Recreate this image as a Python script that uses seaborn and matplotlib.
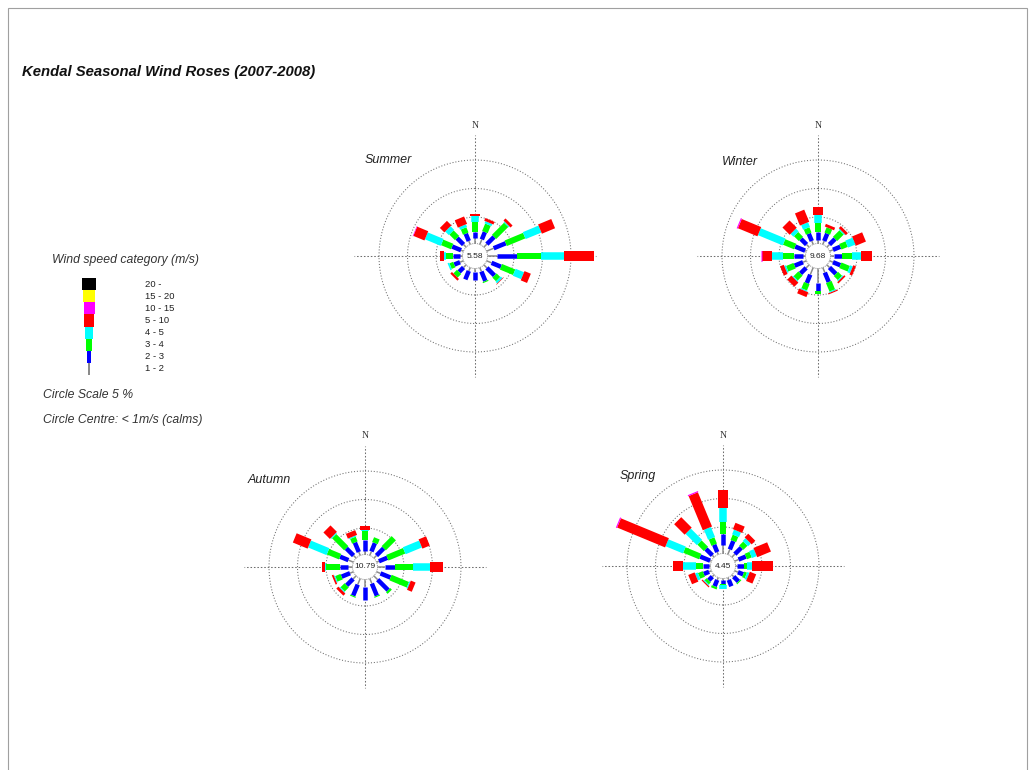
import numpy as np
import matplotlib
matplotlib.use("Agg")
import matplotlib.pyplot as plt
from matplotlib.patches import Rectangle
import seaborn as sns

# ---------------------------------------------------------------- data
DIRECTIONS = ["N", "NNE", "NE", "ENE", "E", "ESE", "SE", "SSE",
              "S", "SSW", "SW", "WSW", "W", "WNW", "NW", "NNW"]
SPEED_CLASSES = ["1 - 2", "2 - 3", "3 - 4", "4 - 5", "5 - 10",
                 "10 - 15", "15 - 20", "20 -"]
SEASONS = ["Summer", "Winter", "Autumn", "Spring"]
CALMS = [5.58, 9.68, 10.79, 4.45]   # % of hours below 1 m/s

# frequency (%) per direction; columns follow SPEED_CLASSES (1-2 ... 10-15)
SUMMER = [
    [1.3, 1.1, 1.7, 1.1, 0.3, 0.0],
    [1.3, 1.4, 1.4, 0.4, 0.5, 0.0],
    [1.1, 1.8, 3.0, 0.2, 0.5, 0.0],
    [1.7, 2.3, 3.5, 3.0, 2.5, 0.0],
    [2.1, 3.5, 4.1, 4.0, 5.3, 0.0],
    [1.3, 1.8, 2.5, 1.6, 1.2, 0.0],
    [1.1, 1.9, 0.9, 0.4, 0.1, 0.0],
    [1.1, 1.8, 0.2, 0.0, 0.0, 0.0],
    [1.0, 1.4, 0.0, 0.0, 0.0, 0.0],
    [1.0, 1.6, 0.0, 0.0, 0.0, 0.0],
    [1.0, 1.1, 0.9, 0.0, 0.4, 0.0],
    [1.0, 1.1, 0.7, 0.3, 0.0, 0.0],
    [0.8, 1.2, 1.2, 0.4, 0.7, 0.0],
    [0.8, 1.7, 1.9, 3.0, 2.1, 0.1],
    [1.0, 1.6, 1.4, 0.9, 1.1, 0.0],
    [1.0, 1.4, 1.0, 0.5, 1.4, 0.0],
]
WINTER = [
    [1.0, 1.4, 1.6, 1.4, 1.4, 0.0],
    [1.0, 1.4, 1.0, 0.0, 0.5, 0.0],
    [1.0, 1.4, 1.6, 0.2, 0.5, 0.0],
    [1.0, 1.4, 1.2, 1.4, 1.9, 0.0],
    [1.0, 1.4, 1.7, 1.6, 1.9, 0.0],
    [1.0, 1.4, 1.6, 0.5, 0.5, 0.0],
    [1.0, 1.6, 1.0, 0.2, 0.3, 0.0],
    [1.3, 1.8, 1.6, 0.2, 0.2, 0.0],
    [2.9, 1.4, 0.5, 0.0, 0.0, 0.0],
    [1.7, 1.6, 1.2, 0.2, 0.9, 0.0],
    [1.1, 1.4, 1.2, 0.2, 1.0, 0.0],
    [1.0, 1.6, 1.4, 0.3, 0.7, 0.0],
    [0.8, 1.6, 1.9, 1.9, 1.7, 0.2],
    [0.6, 1.9, 2.1, 4.7, 3.7, 0.2],
    [1.0, 1.4, 1.2, 0.7, 1.8, 0.0],
    [1.0, 1.4, 1.0, 0.9, 2.3, 0.0],
]
AUTUMN = [
    [1.0, 1.9, 1.6, 0.1, 0.8, 0.0],
    [1.1, 1.6, 0.9, 0.0, 0.0, 0.0],
    [1.0, 1.8, 2.5, 0.0, 0.0, 0.0],
    [0.8, 1.6, 3.2, 3.1, 1.4, 0.0],
    [1.7, 1.8, 3.0, 3.0, 2.4, 0.0],
    [1.1, 1.9, 3.3, 0.2, 0.9, 0.0],
    [1.3, 2.6, 0.4, 0.0, 0.0, 0.0],
    [1.3, 2.3, 0.2, 0.0, 0.0, 0.0],
    [1.7, 2.3, 0.0, 0.0, 0.0, 0.0],
    [1.5, 2.1, 0.2, 0.0, 0.0, 0.0],
    [1.1, 1.6, 1.0, 0.2, 0.5, 0.0],
    [1.0, 1.6, 1.0, 0.2, 0.3, 0.0],
    [1.1, 1.4, 2.5, 0.2, 0.5, 0.0],
    [1.3, 1.6, 2.3, 3.5, 2.8, 0.0],
    [1.0, 1.8, 3.0, 0.2, 1.6, 0.0],
    [1.0, 1.8, 0.9, 0.2, 0.9, 0.0],
]
SPRING = [
    [1.8, 1.9, 2.1, 2.5, 3.2, 0.0],
    [1.3, 1.6, 1.0, 0.9, 1.2, 0.0],
    [1.1, 1.6, 1.0, 0.7, 0.9, 0.0],
    [1.1, 1.4, 0.9, 0.9, 2.6, 0.0],
    [0.6, 1.2, 0.5, 0.9, 3.7, 0.0],
    [1.0, 1.0, 0.5, 0.4, 1.2, 0.0],
    [0.8, 1.2, 0.2, 0.0, 0.0, 0.0],
    [0.8, 1.2, 0.0, 0.0, 0.0, 0.0],
    [0.6, 0.7, 0.2, 0.7, 0.0, 0.0],
    [0.8, 1.2, 0.4, 0.0, 0.0, 0.0],
    [0.8, 0.9, 0.5, 0.2, 0.2, 0.0],
    [0.8, 1.0, 0.9, 0.5, 1.2, 0.0],
    [0.6, 1.1, 1.2, 2.3, 1.7, 0.0],
    [0.6, 1.9, 3.0, 3.3, 9.1, 0.2],
    [0.8, 1.6, 1.6, 2.8, 2.6, 0.0],
    [0.8, 1.4, 1.2, 1.9, 6.5, 0.2],
]

# ---------------------------------------------------------------- style
sns.set_theme(style="white")
plt.rcParams["font.family"] = ["Liberation Sans", "DejaVu Sans"]

CLASS_COLORS = sns.color_palette(["#8a8a8a", "#0000ff", "#00ff00", "#00ffff",
                                  "#ff0000", "#ff00ff", "#ffff00", "#000000"])
CLASS_WIDTH_PX = [1.5, 4.5, 6.0, 7.5, 10.0, 11.0, 12.5, 13.5]
GUIDE = "#6e6e6e"

W_PX, H_PX = 1035, 770
PX_PER_PCT = 5.7              # radial scale: 5 % ring spacing ~28.5 px
BASE = 10.5 / PX_PER_PCT      # bars start at the calm circle
CALM_R = 12.5 / PX_PER_PCT
CROSS_R = 121 / PX_PER_PCT
NORTH_R = 131 / PX_PER_PCT
HALF = 140                    # half size of each rose axes, px
RLIM = HALF / PX_PER_PCT

fig = plt.figure(figsize=(W_PX / 100, H_PX / 100), dpi=100)
fig.patch.set_facecolor("white")


def fx(x):
    return x / W_PX


def fy(y):
    return 1 - y / H_PX


def add_rose(cx, cy, freqs, calm):
    ax = fig.add_axes([fx(cx - HALF), fy(cy + HALF), 2 * HALF / W_PX, 2 * HALF / H_PX],
                      projection="polar")
    ax.set_theta_zero_location("N")
    ax.set_theta_direction(-1)
    ax.axis("off")

    theta = np.deg2rad(np.arange(len(DIRECTIONS)) * 22.5)
    arr = np.asarray(freqs, dtype=float)
    tops = BASE + np.cumsum(arr, axis=1)
    bottoms = np.hstack([np.full((len(theta), 1), BASE), tops[:, :-1]])

    # scale rings (5 %, 10 %, 15 %) and compass cross
    t = np.linspace(0, 2 * np.pi, 400)
    for k in (5, 10, 15):
        ax.plot(t, np.full_like(t, BASE + k), color=GUIDE, lw=0.75,
                ls=(0, (1, 1.8)), zorder=1)
    for th in np.deg2rad([0, 90, 180, 270]):
        ax.plot([th, th], [0, CROSS_R], color=GUIDE, lw=0.75,
                ls=(0, (1.5, 1.8)), zorder=1)

    # stacked speed-class segments as constant-width radial bars
    for c in range(arr.shape[1]):
        m = arr[:, c] > 0
        if not m.any():
            continue
        ax.vlines(theta[m], bottoms[m, c], tops[m, c],
                  colors=[CLASS_COLORS[c]], linewidths=CLASS_WIDTH_PX[c] * 0.72,
                  capstyle="butt", zorder=2)

    # calm circle with its percentage
    ax.fill(t, np.full_like(t, CALM_R), facecolor="white", edgecolor="#8c8c8c",
            lw=0.7, ls=(0, (1, 1)), zorder=3)
    ax.text(0, 0, f"{calm:.2f}", ha="center", va="center", fontsize=6,
            color="#222222", zorder=4)
    ax.text(0, NORTH_R, "N", ha="center", va="center", fontsize=7,
            family=["Liberation Serif", "DejaVu Serif"], color="#333333")
    ax.set_ylim(0, RLIM)
    return ax


centres = [(475, 256), (818, 256), (365, 567), (723, 566)]
label_pos = [(365, 160), (722, 162), (248, 480), (620, 476)]
for (cx, cy), (lx, ly), freqs, calm, name in zip(
        centres, label_pos, [SUMMER, WINTER, AUTUMN, SPRING], CALMS, SEASONS):
    add_rose(cx, cy, freqs, calm)
    fig.text(fx(lx), fy(ly), name, ha="left", va="center", fontsize=9,
             style="italic", color="#222222")

# ---------------------------------------------------------------- title
fig.text(fx(22), fy(72), "Kendal Seasonal Wind Roses (2007-2008)", ha="left",
         va="center", fontsize=10.7, weight="bold", style="italic", color="#111111")

# ---------------------------------------------------------------- legend
fig.text(fx(52), fy(260), "Wind speed category (m/s)", ha="left", va="center",
         fontsize=8.8, style="italic", color="#333333")
lax = fig.add_axes([fx(72), fy(375), 34 / W_PX, 97 / H_PX])
lax.bar(np.zeros(len(SPEED_CLASSES)), np.ones(len(SPEED_CLASSES)),
        width=CLASS_WIDTH_PX, bottom=np.arange(len(SPEED_CLASSES)),
        color=CLASS_COLORS, linewidth=0)
for i, lab in enumerate(SPEED_CLASSES):
    lax.text(56, i + 0.5, lab, ha="left", va="center", fontsize=6.8, color="#222222",
             clip_on=False)
lax.set_xlim(-17, 17)
lax.set_ylim(0, len(SPEED_CLASSES))
lax.axis("off")

fig.text(fx(43), fy(395), "Circle Scale 5 %", ha="left", va="center",
         fontsize=8.8, style="italic", color="#333333")
fig.text(fx(43), fy(420), "Circle Centre: < 1m/s (calms)", ha="left", va="center",
         fontsize=8.8, style="italic", color="#333333")

# page frame
fig.patches.append(Rectangle((fx(8), -0.01), (1027 - 8) / W_PX, fy(8) + 0.01,
                             transform=fig.transFigure, fill=False,
                             edgecolor="#a0a0a0", lw=0.8))

fig.savefig("out.png", dpi=100)
